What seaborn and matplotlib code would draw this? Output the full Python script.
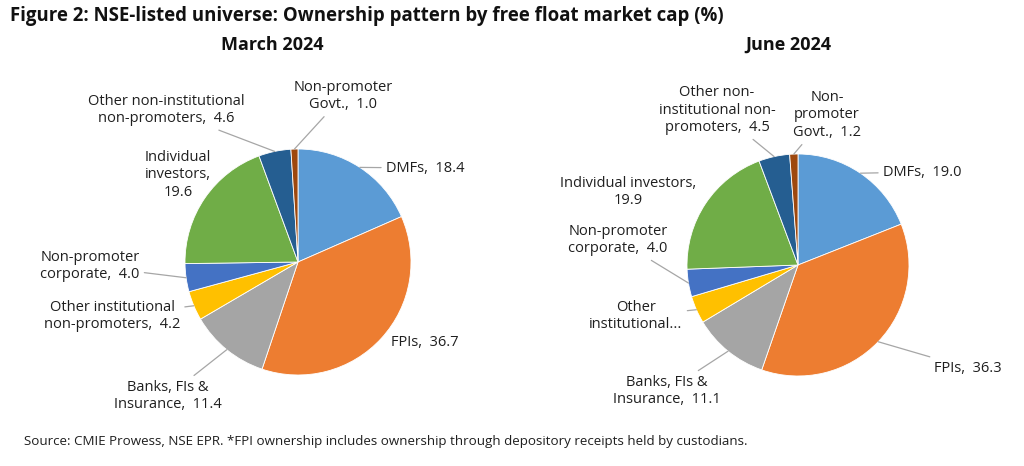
import numpy as np
import matplotlib
matplotlib.use("Agg")
import matplotlib.pyplot as plt
import seaborn as sns

# Ownership share by free float market cap (%), clockwise from 12 o'clock
categories = ["DMFs", "FPIs", "Banks, FIs & Insurance",
              "Other institutional non-promoters", "Non-promoter corporate",
              "Individual investors", "Other non-institutional non-promoters",
              "Non-promoter Govt."]
march_2024 = [18.4, 36.7, 11.4, 4.2, 4.0, 19.6, 4.6, 1.0]
june_2024 = [19.0, 36.3, 11.1, 4.0, 4.0, 19.9, 4.5, 1.2]

# label texts as Excel wrapped them ({v} = value)
march_labels = ["DMFs,  {v}", "FPIs,  {v}", "Banks, FIs &\nInsurance,  {v}",
                "Other institutional\nnon-promoters,  {v}",
                "Non-promoter\ncorporate,  {v}", "Individual\ninvestors,\n{v}",
                "Other non-institutional\nnon-promoters,  {v}",
                "Non-promoter\nGovt.,  {v}"]
june_labels = ["DMFs,  {v}", "FPIs,  {v}", "Banks, FIs &\nInsurance,  {v}",
               "Other\ninstitutional...",
               "Non-promoter\ncorporate,  {v}", "Individual investors,\n{v}",
               "Other non-\ninstitutional non-\npromoters,  {v}",
               "Non-\npromoter\nGovt.,  {v}"]

colors = ["#5B9BD5", "#ED7D31", "#A5A5A5", "#FFC000",
          "#4472C4", "#70AD47", "#255E91", "#9E480E"]

sns.set_theme(style="white")
plt.rcParams["font.family"] = ["Open Sans", "DejaVu Sans"]

W, H = 1024, 466
fig = plt.figure(figsize=(W / 100, H / 100), dpi=100)


def fpos(x, y):
    return (x / W, 1 - y / H)


def draw_pie(values, labels, cx, cy, r, label_pos, leaders):
    ax = fig.add_axes([(cx - r) / W, (H - cy - r) / H, 2 * r / W, 2 * r / H])
    wedges, _ = ax.pie(values, colors=sns.color_palette(colors), startangle=90,
                       counterclock=False, radius=1,
                       wedgeprops=dict(edgecolor="white", linewidth=0.6))
    ax.set_xlim(-1, 1)
    ax.set_ylim(-1, 1)
    ax.set_aspect("equal")
    ax.axis("off")
    for w, lab, v, pos, lead in zip(wedges, labels, values, label_pos, leaders):
        ang = np.deg2rad((w.theta1 + w.theta2) / 2)
        txt = lab.format(v=f"{v:.1f}")
        kw = dict(xytext=fpos(*pos), textcoords="figure fraction",
                  ha="center", va="center", fontsize=10.5, color="#1f1f1f",
                  annotation_clip=False, linespacing=1.25)
        if lead:
            kw["arrowprops"] = dict(arrowstyle="-", color="#A6A6A6", lw=0.9,
                                    shrinkA=1, shrinkB=0)
        ax.annotate(txt, xy=(np.cos(ang), np.sin(ang)), xycoords="data", **kw)


march_pos = [(425, 168), (425, 343), (168, 396), (112, 316),
             (90, 266), (178, 175), (166, 110), (343, 96)]
march_lead = [True, False, True, True, True, False, True, True]
june_pos = [(922, 172), (968, 368), (667, 391), (636, 316),
            (618, 240), (628, 192), (717, 110), (827, 115)]
june_lead = [True, True, True, True, True, False, True, True]

draw_pie(march_2024, march_labels, 298, 262, 113, march_pos, march_lead)
draw_pie(june_2024, june_labels, 798, 265, 111, june_pos, june_lead)

fig.text(*fpos(10, 16), "Figure 2: NSE-listed universe: Ownership pattern by free float market cap (%)",
         ha="left", va="center", fontsize=13.4, fontweight="bold", color="#111111")
fig.text(*fpos(272, 45), "March 2024", ha="center", va="center",
         fontsize=13, fontweight="bold", color="#111111")
fig.text(*fpos(788, 45), "June 2024", ha="center", va="center",
         fontsize=13, fontweight="bold", color="#111111")
fig.text(*fpos(24, 441), "Source: CMIE Prowess, NSE EPR. *FPI ownership includes ownership "
         "through depository receipts held by custodians.",
         ha="left", va="center", fontsize=9.6, color="#1f1f1f")

fig.savefig("out.png", dpi=100, facecolor="white")
